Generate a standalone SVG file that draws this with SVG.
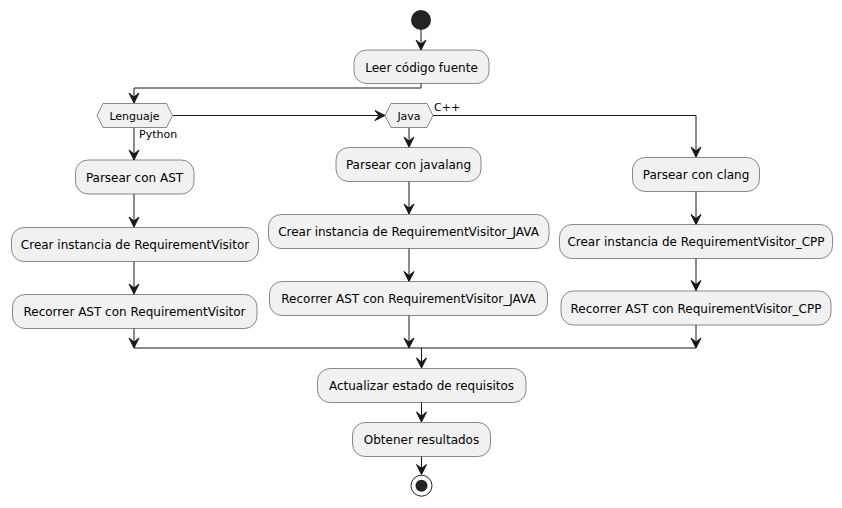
<svg xmlns="http://www.w3.org/2000/svg" width="842" height="508" viewBox="0 0 842 508">
<defs>
<marker id="ah" markerUnits="userSpaceOnUse" markerWidth="14" markerHeight="14" refX="0" refY="0" viewBox="-12 -7 14 14" orient="auto" overflow="visible">
<path d="M0,0 L-10,-5 L-6,0 L-10,5 Z" fill="#181818" stroke="#181818" stroke-width="1" stroke-linejoin="miter"/>
</marker>
</defs>
<style>
.box{fill:#F1F1F1;stroke:#181818;stroke-width:0.5}
.t{font-family:"DejaVu Sans",sans-serif;font-size:12px;fill:#000;text-anchor:middle}
.s{font-family:"DejaVu Sans",sans-serif;font-size:11px;fill:#000}
.c{fill:none;stroke:#181818;stroke-width:1}
.a{marker-end:url(#ah)}
</style>
<rect width="842" height="508" fill="#FFFFFF"/>
<g id="connectors">
<path class="c a" d="M421,30 L421,50"/>
<path class="c a" d="M421,83 L421,88 L134,88 L134,103"/>
<path class="c a" d="M173,115.5 L385,115.5"/>
<path class="c a" d="M134,128 L134,160"/>
<path class="c a" d="M134,194 L134,227"/>
<path class="c a" d="M134,261 L134,294"/>
<path class="c a" d="M134,328 L134,348"/>
<path class="c a" d="M409,128 L409,147"/>
<path class="c a" d="M409,181.5 L409,214"/>
<path class="c a" d="M409,248 L409,281.5"/>
<path class="c a" d="M409,315.5 L409,348"/>
<path class="c a" d="M433,115.5 L696,115.5 L696,157"/>
<path class="c a" d="M696,191 L696,224.5"/>
<path class="c a" d="M696,258 L696,290.5"/>
<path class="c a" d="M696,325 L696,348"/>
<path class="c" d="M134,348 L696,348"/>
<path class="c a" d="M421.5,348 L421.5,368"/>
<path class="c a" d="M421.5,402 L421.5,422"/>
<path class="c a" d="M421.5,456.5 L421.5,474.5"/>
<text class="s" x="139" y="137.5">Python</text>
<text class="s" x="434" y="111">C++</text>
</g>
<g id="start"><circle cx="421" cy="20" r="10" fill="#222222"/></g>
<g id="leer"><rect class="box" x="354" y="50" width="135" height="33.5" rx="12.5"/><text class="t" x="421.5" y="71.5">Leer código fuente</text></g>
<g id="lenguaje"><polygon class="box" points="97,115.5 103,103.5 166.5,103.5 172.5,115.5 166.5,127.5 103,127.5"/><text class="s" x="134.5" y="119.5" text-anchor="middle">Lenguaje</text></g>
<g id="java"><polygon class="box" points="385,115.5 391,103.5 427,103.5 433,115.5 427,127.5 391,127.5"/><text class="s" x="409" y="119.5" text-anchor="middle">Java</text></g>
<g id="ast"><rect class="box" x="75.5" y="160" width="118.5" height="34" rx="12.5"/><text class="t" x="134.5" y="181.5">Parsear con AST</text></g>
<g id="crearPy"><rect class="box" x="11.5" y="227.5" width="247" height="34" rx="12.5"/><text class="t" x="135" y="249">Crear instancia de RequirementVisitor</text></g>
<g id="recPy"><rect class="box" x="12.5" y="294.5" width="244.5" height="34" rx="12.5"/><text class="t" x="134.5" y="316">Recorrer AST con RequirementVisitor</text></g>
<g id="javalang"><rect class="box" x="336" y="147.5" width="145" height="34" rx="12.5"/><text class="t" x="408.5" y="169">Parsear con javalang</text></g>
<g id="crearJava"><rect class="box" x="268.5" y="214.5" width="280.5" height="34" rx="12.5"/><text class="t" x="408.5" y="236">Crear instancia de RequirementVisitor_JAVA</text></g>
<g id="recJava"><rect class="box" x="269.5" y="281.5" width="278" height="34" rx="12.5"/><text class="t" x="408.5" y="303">Recorrer AST con RequirementVisitor_JAVA</text></g>
<g id="clang"><rect class="box" x="632.5" y="157.5" width="127" height="34" rx="12.5"/><text class="t" x="696" y="179">Parsear con clang</text></g>
<g id="crearCpp"><rect class="box" x="559.5" y="224.5" width="273" height="34" rx="12.5"/><text class="t" x="696" y="246">Crear instancia de RequirementVisitor_CPP</text></g>
<g id="recCpp"><rect class="box" x="561" y="291" width="270" height="34" rx="12.5"/><text class="t" x="696" y="312.5">Recorrer AST con RequirementVisitor_CPP</text></g>
<g id="actualizar"><rect class="box" x="317.5" y="368.5" width="208.5" height="34" rx="12.5"/><text class="t" x="421.5" y="390">Actualizar estado de requisitos</text></g>
<g id="obtener"><rect class="box" x="352.5" y="422.5" width="138" height="34" rx="12.5"/><text class="t" x="421.5" y="444">Obtener resultados</text></g>
<g id="end"><circle cx="421.5" cy="485.7" r="10.5" fill="none" stroke="#222222" stroke-width="1"/><circle cx="421.5" cy="485.7" r="6" fill="#222222"/></g>
</svg>
